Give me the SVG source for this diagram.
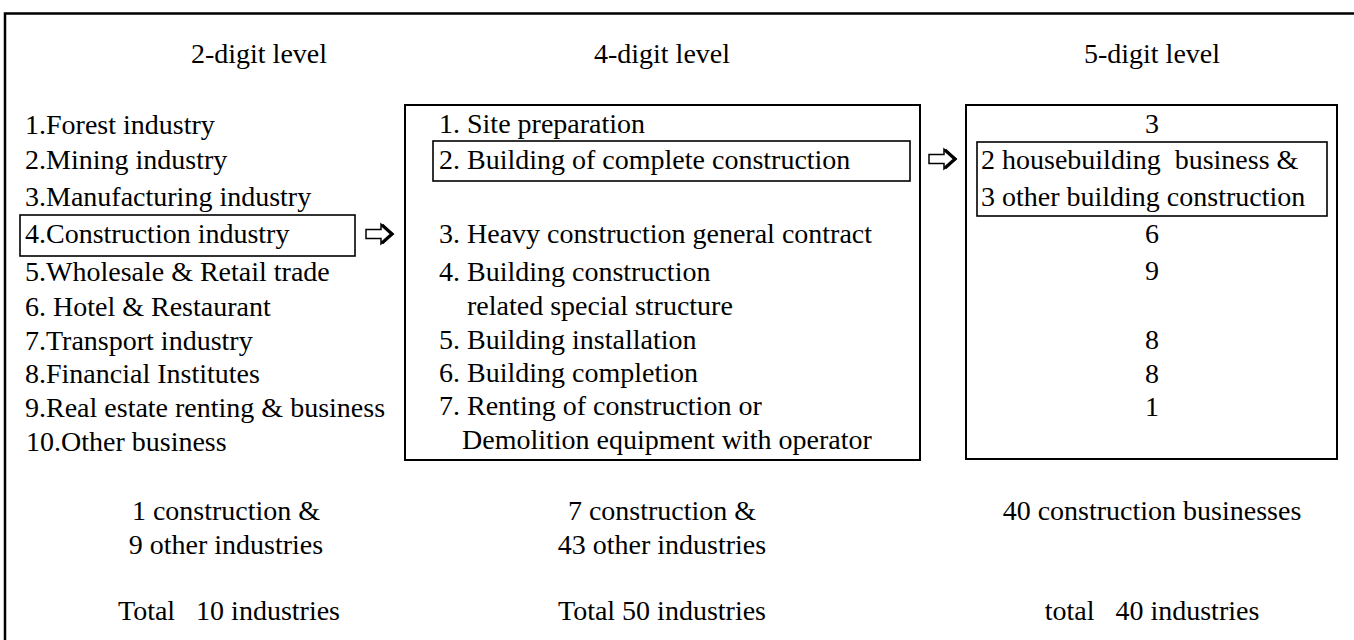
<svg xmlns="http://www.w3.org/2000/svg" width="1354" height="640" viewBox="0 0 1354 640" font-family="'Liberation Serif', 'Times New Roman', 'DejaVu Serif', serif" font-size="28">
<style>
text{font-family:'Liberation Serif','Times New Roman','DejaVu Serif',serif;font-size:28px;fill:#000;white-space:pre}
.c{text-anchor:middle}
.box{fill:none;stroke:#000;stroke-width:2}
.ibox{fill:none;stroke:#000;stroke-width:1.6}
.ash{fill:#fff;stroke:#000;stroke-width:1.5;stroke-linejoin:miter}
.ahd{fill:none;stroke:#000;stroke-width:3.2;stroke-linejoin:miter}
</style>
<defs>
<g id="arrow">
<path class="ash" d="M0,-4.5 H15 V-10 L27,0 L15,10 V4.5 H0 Z"/>
<path class="ahd" d="M16,-9 L26,0 L16,9"/>
</g>
</defs>
<rect x="0" y="0" width="1354" height="640" fill="#fff"/>
<rect id="frame" x="5" y="13.5" width="1360" height="640" fill="none" stroke="#000" stroke-width="2.5"/>

<g id="headers">
<text class="c" x="259" y="63">2-digit level</text>
<text class="c" x="662" y="63">4-digit level</text>
<text class="c" x="1152" y="63">5-digit level</text>
</g>

<g id="level2">
<rect class="ibox" x="20" y="215" width="335" height="41"/>
<text x="25" y="134">1.Forest industry</text>
<text x="25" y="169">2.Mining industry</text>
<text x="25" y="206">3.Manufacturing industry</text>
<text x="25" y="243">4.Construction industry</text>
<text x="25" y="281">5.Wholesale &amp; Retail trade</text>
<text x="25" y="316">6. Hotel &amp; Restaurant</text>
<text x="25" y="350">7.Transport industry</text>
<text x="25" y="383">8.Financial Institutes</text>
<text x="25" y="417">9.Real estate renting &amp; business</text>
<text x="26" y="451">10.Other business</text>
</g>

<g id="level4">
<rect class="box" x="405" y="105" width="515" height="355"/>
<rect class="ibox" x="433" y="141" width="477" height="40"/>
<text x="439" y="133">1. Site preparation</text>
<text x="439" y="169">2. Building of complete construction</text>
<text x="439" y="243">3. Heavy construction general contract</text>
<text x="439" y="281">4. Building construction</text>
<text x="467" y="315">related special structure</text>
<text x="439" y="349">5. Building installation</text>
<text x="439" y="382">6. Building completion</text>
<text x="439" y="415">7. Renting of construction or</text>
<text x="462" y="449">Demolition equipment with operator</text>
</g>

<g id="level5">
<rect class="box" x="966" y="105" width="371" height="354"/>
<rect class="ibox" x="977" y="142" width="350" height="74"/>
<text class="c" x="1152" y="133">3</text>
<text x="981" y="169">2 housebuilding  business &amp;</text>
<text x="981" y="206">3 other building construction</text>
<text class="c" x="1152" y="243">6</text>
<text class="c" x="1152" y="280">9</text>
<text class="c" x="1152" y="349">8</text>
<text class="c" x="1152" y="383">8</text>
<text class="c" x="1152" y="416">1</text>
</g>

<g id="connectors">
<use href="#arrow" x="366" y="234"/>
<use href="#arrow" x="929" y="159"/>
</g>

<g id="summary">
<text class="c" x="226" y="520">1 construction &amp;</text>
<text class="c" x="226" y="554">9 other industries</text>
<text class="c" x="229" y="620">Total   10 industries</text>
<text class="c" x="662" y="520">7 construction &amp;</text>
<text class="c" x="662" y="554">43 other industries</text>
<text class="c" x="662" y="620">Total 50 industries</text>
<text class="c" x="1152" y="520">40 construction businesses</text>
<text class="c" x="1152" y="620">total   40 industries</text>
</g>
</svg>
